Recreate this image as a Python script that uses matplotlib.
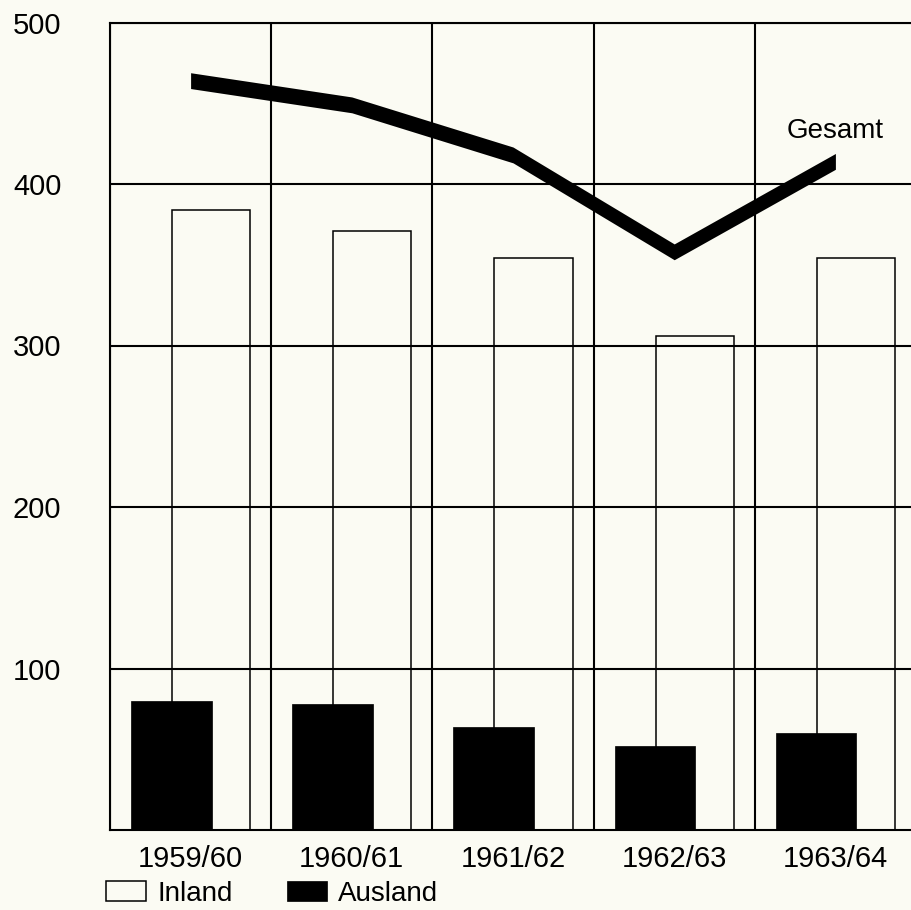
import numpy as np
import matplotlib.pyplot as plt

years = ["1959/60", "1960/61", "1961/62", "1962/63", "1963/64"]
inland = [384, 371, 354, 306, 354]
ausland = [80, 78, 64, 52, 60]
gesamt = [464, 449, 418, 358, 414]

bg = "#fbfbf3"
plt.rcParams["font.family"] = ["Liberation Sans", "DejaVu Sans"]

fig = plt.figure(figsize=(9.12, 9.10), dpi=100, facecolor=bg)
ax = fig.add_axes([110 / 912, 80 / 910, 806 / 912, 807.5 / 910])
ax.set_facecolor(bg)

x = np.arange(len(years))

# inland: open outline bars, start at the middle of the black bar
ax.bar(x + 0.385, inland, width=0.485, align="edge", facecolor="none",
       edgecolor="black", linewidth=1.1, zorder=2, label="Inland")
ax.bar(x + 0.38, ausland, width=0.50, color="black", edgecolor="black",
       linewidth=0.5, zorder=3, label="Ausland")

# total as a thick band
g = np.array(gesamt, dtype=float)
ax.fill_between(x + 0.5, g - 4.9, g + 4.9, color="black", linewidth=0, zorder=4)
ax.text(4.2, 433, "Gesamt", fontsize=20, ha="left", va="center", zorder=5)

ax.set_xlim(0, len(years))
ax.set_ylim(0, 500)
ax.set_yticks([100, 200, 300, 400, 500])
ax.set_xticks(x + 0.5)
ax.set_xticklabels(years)
ax.set_xticks(np.arange(len(years) + 1), minor=True)
ax.grid(True, which="major", axis="y", color="black", linewidth=1.5, zorder=1)
ax.grid(True, which="minor", axis="x", color="black", linewidth=1.5, zorder=1)
ax.set_axisbelow(True)
ax.tick_params(axis="both", which="both", length=0, labelsize=21)
ax.tick_params(axis="y", pad=35)
ax.tick_params(axis="x", pad=11)
for s in ax.spines.values():
    s.set_linewidth(1.5)

ax.legend(loc="upper left", bbox_to_anchor=(-0.005, -0.063), ncol=2,
          frameon=False, fontsize=20, handlelength=1.45, handleheight=0.7,
          handletextpad=0.4, columnspacing=1.95, borderpad=0, borderaxespad=0)

fig.savefig("out.png", dpi=100, facecolor=bg)
